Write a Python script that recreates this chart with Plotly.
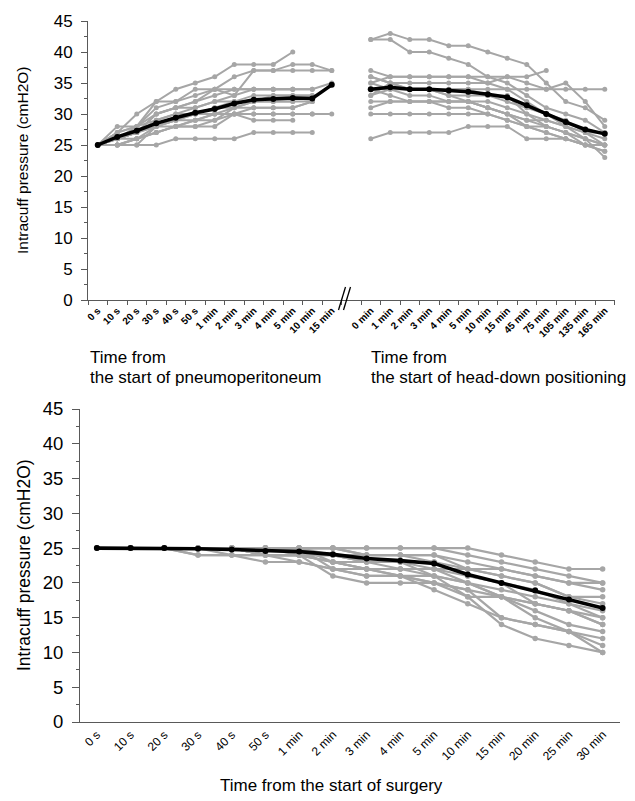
import plotly.graph_objects as go

FONT = "Liberation Sans, Arial, sans-serif"
GRAY = "#A6A6A6"
AXIS = "#595959"
W, H = 635, 801

# ---------------- data ----------------
pneumo_times = ["0 s", "10 s", "20 s", "30 s", "40 s", "50 s", "1 min", "2 min",
                "3 min", "4 min", "5 min", "10 min", "15 min"]
headdown_times = ["0 min", "1 min", "2 min", "3 min", "4 min", "5 min", "10 min",
                  "15 min", "45 min", "75 min", "105 min", "135 min", "165 min"]
surgery_times = ["0 s", "10 s", "20 s", "30 s", "40 s", "50 s", "1 min", "2 min",
                 "3 min", "4 min", "5 min", "10 min", "15 min", "20 min", "25 min", "30 min"]

pneumo_mean = [25, 26.3, 27.3, 28.5, 29.4, 30.2, 30.8, 31.7, 32.3, 32.4, 32.6, 32.5, 34.7]
pneumo_patients = [
    [25, 27, 30, 32, 34, 35, 36, 38, 38, 38, 40, None, None],
    [25, 28, 28, 32, 32, 34, 34, 36, 37, 37, 38, 38, 37],
    [25, 26, 28, 31, 32, 33, 34, 33, 37, 37, 37, 37, 37],
    [25, 26, 27, 30, 31, 32, 34, 34, 34, 34, 34, 34, 35],
    [25, 26, 27, 30, 31, 31, 32, 33, 34, 34, 34, 34, None],
    [25, 27, 28, 29, 30, 31, 32, 32, 33, 33, 33, 33, None],
    [25, 26, 27, 29, 30, 30, 31, 32, 32, 33, 33, 33, None],
    [25, 25, 26, 28, 29, 30, 30, 31, 32, 32, 32, 32, None],
    [25, 26, 27, 28, 29, 30, 31, 31, 31, 31, 31, 32, None],
    [25, 25, 26, 27, 28, 29, 30, 30, 31, 31, 31, 32, None],
    [25, 25, 25, 28, 29, 29, 30, 30, 30, 30, 30, 30, 30],
    [25, 26, 26, 27, 28, 28, 29, 30, 30, 30, 30, 30, None],
    [25, 25, 26, 27, 28, 28, 28, 30, 29, 29, 29, None, None],
    [25, 25, 25, 25, 26, 26, 26, 26, 27, 27, 27, 27, None],
    [25, 26, 27, 28, 28, 29, 29, 31, 32, 32, 32, None, None],
    [25, 27, 28, 30, 31, 32, 33, 34, 34, 34, 34, None, None],
]

headdown_mean = [34.0, 34.3, 34.0, 34.0, 33.8, 33.6, 33.2, 32.7, 31.4, 30.0, 28.7, 27.5, 26.8]
headdown_patients = [
    [42, 43, 42, 42, 41, 41, 40, 39, 38, 35, 32, 31, 29],
    [42, 42, 40, 40, 39, 38, 36, 35, 33, 31, 30, 29, 27],
    [37, 36, 36, 36, 36, 36, 36, 36, 36, 37, None, None, None],
    [36, 35, 35, 35, 35, 35, 35, 36, 35, 34, 35, 32, 28],
    [35, 36, 36, 36, 36, 36, 35, 34, 32, 30, 29, 27, 26],
    [34, 34, 34, 34, 34, 34, 34, 34, 34, 34, 34, 34, 34],
    [33, 35, 34, 34, 33, 33, 33, 32, 31, 30, 28, 27, 25],
    [36, 35, 34, 34, 34, 34, 33, 33, 30, 29, 28, 26, 25],
    [32, 32, 32, 32, 32, 32, 32, 31, 30, 28, 27, 26, 25],
    [35, 34, 33, 33, 32, 32, 31, 30, 29, 28, 27, 25, 24],
    [31, 32, 32, 32, 32, 32, 31, 30, 28, 28, 27, 26, 23],
    [30, 30, 30, 30, 30, 30, 30, 29, 28, 27, 26, 25, 25],
    [34, 33, 32, 32, 31, 31, 30, 29, 28, 27, 26, 25, 24],
    [26, 27, 27, 27, 27, 28, 28, 28, 26, 26, 26, 25, 25],
    [33, 34, 34, 34, 33, 32, 31, 30, 29, 29, 28, 27, 27],
]

surgery_mean = [25, 25, 25, 24.9, 24.8, 24.6, 24.5, 24.1, 23.5, 23.2, 22.8, 21.2, 20.0, 18.9, 17.6, 16.4]
surgery_patients = [
    [25, 25, 25, 25, 25, 25, 25, 25, 25, 25, 25, 25, 24, 23, 22, 22],
    [25, 25, 25, 25, 25, 25, 25, 25, 25, 25, 25, 24, 23, 22, 21, 20],
    [25, 25, 25, 25, 25, 25, 25, 25, 24, 24, 24, 23, 22, 21, 20, 20],
    [25, 25, 25, 25, 25, 25, 25, 24, 24, 24, 24, 22, 22, 21, 20, 19],
    [25, 25, 25, 25, 25, 25, 24, 24, 23, 23, 23, 22, 21, 20, 18, 18],
    [25, 25, 25, 25, 25, 24, 24, 24, 23, 23, 22, 22, 21, 20, 18, 17],
    [25, 25, 25, 25, 25, 25, 25, 23, 23, 22, 22, 21, 20, 19, 17, 16],
    [25, 25, 25, 25, 25, 24, 24, 23, 22, 22, 21, 20, 19, 18, 17, 15],
    [25, 25, 25, 24, 24, 24, 24, 23, 22, 22, 22, 20, 18, 17, 16, 14],
    [25, 25, 25, 25, 25, 25, 25, 22, 22, 21, 21, 20, 18, 16, 14, 13],
    [25, 25, 25, 24, 24, 23, 23, 22, 21, 21, 20, 19, 18, 15, 13, 12],
    [25, 25, 25, 25, 25, 24, 24, 21, 20, 20, 20, 19, 15, 14, 13, 11],
    [25, 25, 25, 25, 24, 24, 23, 22, 21, 21, 20, 18, 14, 12, 11, 10],
    [25, 25, 25, 25, 25, 24, 24, 23, 22, 21, 19, 17, 15, 14, 13, 10],
    [25, 25, 25, 25, 25, 25, 25, 25, 24, 24, 23, 21, 20, 17, 16, 14],
    [25, 25, 25, 25, 25, 24, 24, 24, 23, 23, 21, 18, 18, 17, 16, 15],
]

# unique category names for the combined top axis (zero-width spaces keep them distinct)
GAP = "\u200b"
headdown_cats = [t + "\u200b\u200b" for t in headdown_times]
top_categories = pneumo_times + [GAP] + headdown_cats

fig = go.Figure()


def add_group(xcats, patients, mean, xa, ya, msize=5, mean_w=3.5, lw=2):
    for p in patients:
        fig.add_trace(go.Scatter(
            x=xcats, y=p, mode="lines+markers", xaxis=xa, yaxis=ya,
            line=dict(color=GRAY, width=lw), marker=dict(color=GRAY, size=msize),
            hoverinfo="skip", showlegend=False, connectgaps=False))
    fig.add_trace(go.Scatter(
        x=xcats, y=mean, mode="lines+markers", xaxis=xa, yaxis=ya,
        line=dict(color="black", width=mean_w), marker=dict(color="black", size=6),
        showlegend=False))


add_group(pneumo_times, pneumo_patients, pneumo_mean, "x", "y")
add_group(headdown_cats, headdown_patients, headdown_mean, "x", "y")
add_group(surgery_times, surgery_patients, surgery_mean, "x2", "y2", msize=5.5, mean_w=3.6, lw=2.2)


def px_x(v):
    return v / W


def px_y(v):
    return (H - v) / H


def ycommon(ticklen, minorlen):
    return dict(range=[0, 45], tick0=0, dtick=5, ticks="outside", ticklen=ticklen,
                tickcolor=AXIS, showline=True, linecolor=AXIS, linewidth=1,
                showgrid=False, zeroline=False, automargin=False,
                minor=dict(ticks="outside", ticklen=minorlen, dtick=2.5, tickcolor=AXIS))


fig.update_layout(
    template="none",
    width=W, height=H, margin=dict(l=0, r=0, t=0, b=0, autoexpand=False),
    paper_bgcolor="white", plot_bgcolor="white",
    font=dict(family=FONT, color="black"),
    showlegend=False,
    xaxis=dict(domain=[px_x(88), px_x(614.5)], anchor="y", type="category",
               categoryorder="array", categoryarray=top_categories,
               range=[-0.5, len(top_categories) - 0.5],
               tickmode="linear", tick0=0, dtick=1, tickson="boundaries",
               ticks="outside", ticklen=4, tickcolor=AXIS, tickangle=-45,
               tickfont=dict(size=10, weight="bold", family=FONT),
               showline=True, linecolor=AXIS, linewidth=1, showgrid=False,
               zeroline=False, automargin=False),
    yaxis=dict(domain=[px_y(300), px_y(21)], anchor="x",
               tickfont=dict(size=17, family=FONT), ticklabelstandoff=5, **ycommon(6, 3)),
    xaxis2=dict(domain=[px_x(80), px_x(619.5)], anchor="y2", type="category",
                categoryorder="array", categoryarray=surgery_times,
                range=[-0.5, len(surgery_times) - 0.5],
                tickmode="linear", tick0=0, dtick=1, ticks="", tickangle=-45,
                tickfont=dict(size=12, family=FONT),
                showline=True, linecolor=AXIS, linewidth=1, showgrid=False,
                zeroline=False, automargin=False),
    yaxis2=dict(domain=[px_y(722), px_y(409)], anchor="x2",
                tickfont=dict(size=18.5, family=FONT), ticklabelstandoff=5, **ycommon(7, 3.5)),
)

ann = []
# y-axis titles
ann.append(dict(text="Intracuff pressure (cmH2O)", x=px_x(22), y=px_y(160), xref="paper", yref="paper",
                textangle=-90, showarrow=False, font=dict(size=15.5, family=FONT),
                xanchor="center", yanchor="middle"))
ann.append(dict(text="Intracuff pressure (cmH2O)", x=px_x(24), y=px_y(565), xref="paper", yref="paper",
                textangle=-90, showarrow=False, font=dict(size=17.5, family=FONT),
                xanchor="center", yanchor="middle"))
# top x titles
for xx, lines in [(88, ["Time from", "the start of pneumoperitoneum"]),
                  (369, ["Time from", "the start of head-down positioning"])]:
    for yy, t in zip([357, 377], lines):
        ann.append(dict(text=t, x=px_x(xx), y=px_y(yy), xref="paper", yref="paper",
                        showarrow=False, font=dict(size=17, family=FONT),
                        xanchor="left", yanchor="middle"))
# bottom x title
ann.append(dict(text="Time from the start of surgery", x=px_x(331), y=px_y(785), xref="paper", yref="paper",
                showarrow=False, font=dict(size=17, family=FONT),
                xanchor="center", yanchor="middle"))
fig.update_layout(annotations=ann)

# axis-break marks "//"
for dx in (0, 5):
    fig.add_shape(type="line", xref="x domain", yref="y domain",
                  x0=(338.5 + dx - 88) / 526.5, x1=(345.5 + dx - 88) / 526.5,
                  y0=-10 / 279, y1=13 / 279,
                  line=dict(color="black", width=1.3))

fig.write_html("out.html", config={"displayModeBar": False},
               post_script="document.body.style.margin='0px';document.body.style.overflow='hidden';")
